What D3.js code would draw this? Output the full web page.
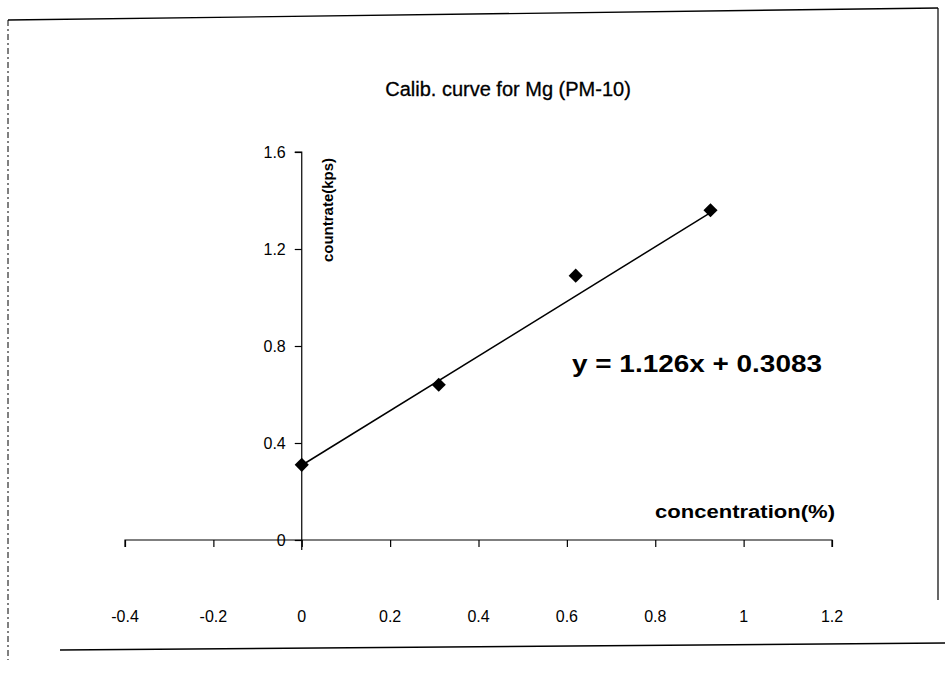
<!DOCTYPE html>
<html><head><meta charset="utf-8">
<script src="https://cdn.jsdelivr.net/npm/d3@7"></script>
<style>
html,body{margin:0;padding:0;background:#fff;}
text{font-family:"Liberation Sans",Arial,sans-serif;fill:#000;}
</style></head>
<body><svg id="c" width="945" height="680"></svg>
<script>
const concentration = [0, 0.31, 0.62, 0.925];
const countrate = [0.31, 0.64, 1.09, 1.36];
const xTicks = [-0.4, -0.2, 0, 0.2, 0.4, 0.6, 0.8, 1, 1.2];
const yTicks = [0, 0.4, 0.8, 1.2, 1.6];
const trend = {slope: 1.126, intercept: 0.3083};
const title = "Calib. curve for Mg (PM-10)";
const xTitle = "concentration(%)";
const yTitle = "countrate(kps)";
const eqText = "y = 1.126x + 0.3083";

const svg = d3.select("#c");
const x = d3.scaleLinear().domain([-0.4, 1.2]).range([125, 832]);
const y = d3.scaleLinear().domain([0, 1.6]).range([540, 152]);

// outer frame
const frame = svg.append("g").attr("stroke", "#000").attr("fill", "none");
frame.append("line").attr("x1", 8).attr("y1", 20).attr("x2", 938).attr("y2", 8).attr("stroke-width", 1.3);
frame.append("line").attr("x1", 8).attr("y1", 20).attr("x2", 8).attr("y2", 660).attr("stroke-width", 1).attr("stroke-dasharray", "6,3,2,3");
frame.append("line").attr("x1", 938).attr("y1", 8).attr("x2", 938).attr("y2", 600).attr("stroke-width", 1.2);
frame.append("line").attr("x1", 60).attr("y1", 650).attr("x2", 945).attr("y2", 643).attr("stroke-width", 1.5);

// title
svg.append("text").attr("x", 508).attr("y", 96).attr("text-anchor", "middle")
  .attr("font-size", 20).attr("stroke", "#000").attr("stroke-width", 0.3).text(title);

// x axis (at y = 0)
const xAxis = svg.append("g").attr("transform", `translate(0,${y(0)})`)
  .call(d3.axisBottom(x).tickValues(xTicks).tickSize(7).tickFormat(""));
xAxis.select(".domain").attr("d", `M${x(-0.4)},7V0H${x(1.2)}V7`).attr("stroke-width", 1.2);
xAxis.selectAll("line").attr("stroke-width", 1.2);

// x tick labels placed low
svg.append("g").selectAll("text").data(xTicks).join("text")
  .attr("x", d => x(d)).attr("y", 622).attr("text-anchor", "middle")
  .attr("font-size", 16).text(d => String(d));

// y axis (at x = 0)
const yAxis = svg.append("g").attr("transform", `translate(${x(0)},0)`)
  .call(d3.axisLeft(y).tickValues(yTicks).tickSize(7).tickPadding(9).tickFormat(d => d === 0 ? "0" : d3.format(".1f")(d)));
yAxis.select(".domain").attr("d", `M-7,${y(1.6)}H0V${y(0) + 10}`).attr("stroke-width", 1.2);
yAxis.selectAll("line").attr("stroke-width", 1.2);
yAxis.selectAll("text").attr("font-size", 16).style("font-family", '"Liberation Sans",Arial,sans-serif');

// axis titles
svg.append("text").attr("x", 835).attr("y", 518).attr("text-anchor", "end")
  .attr("font-size", 18).attr("font-weight", "bold")
  .attr("textLength", 180).attr("lengthAdjust", "spacingAndGlyphs").text(xTitle);
svg.append("text").attr("transform", `translate(333,210) rotate(-90)`).attr("text-anchor", "middle")
  .attr("font-size", 15).attr("font-weight", "bold").text(yTitle);

// trendline
const x0 = d3.min(concentration), x1 = d3.max(concentration);
svg.append("line")
  .attr("x1", x(x0)).attr("y1", y(trend.slope * x0 + trend.intercept))
  .attr("x2", x(x1)).attr("y2", y(trend.slope * x1 + trend.intercept))
  .attr("stroke", "#000").attr("stroke-width", 1.5);

// markers
svg.append("g").selectAll("path").data(concentration).join("path")
  .attr("transform", (d, i) => `translate(${x(d)},${y(countrate[i])}) rotate(45)`)
  .attr("d", "M-5,-5H5V5H-5Z").attr("fill", "#000");

// equation
svg.append("text").attr("x", 572).attr("y", 372).attr("font-size", 24).attr("font-weight", "bold")
  .attr("textLength", 250).attr("lengthAdjust", "spacingAndGlyphs").text(eqText);
</script></body></html>
